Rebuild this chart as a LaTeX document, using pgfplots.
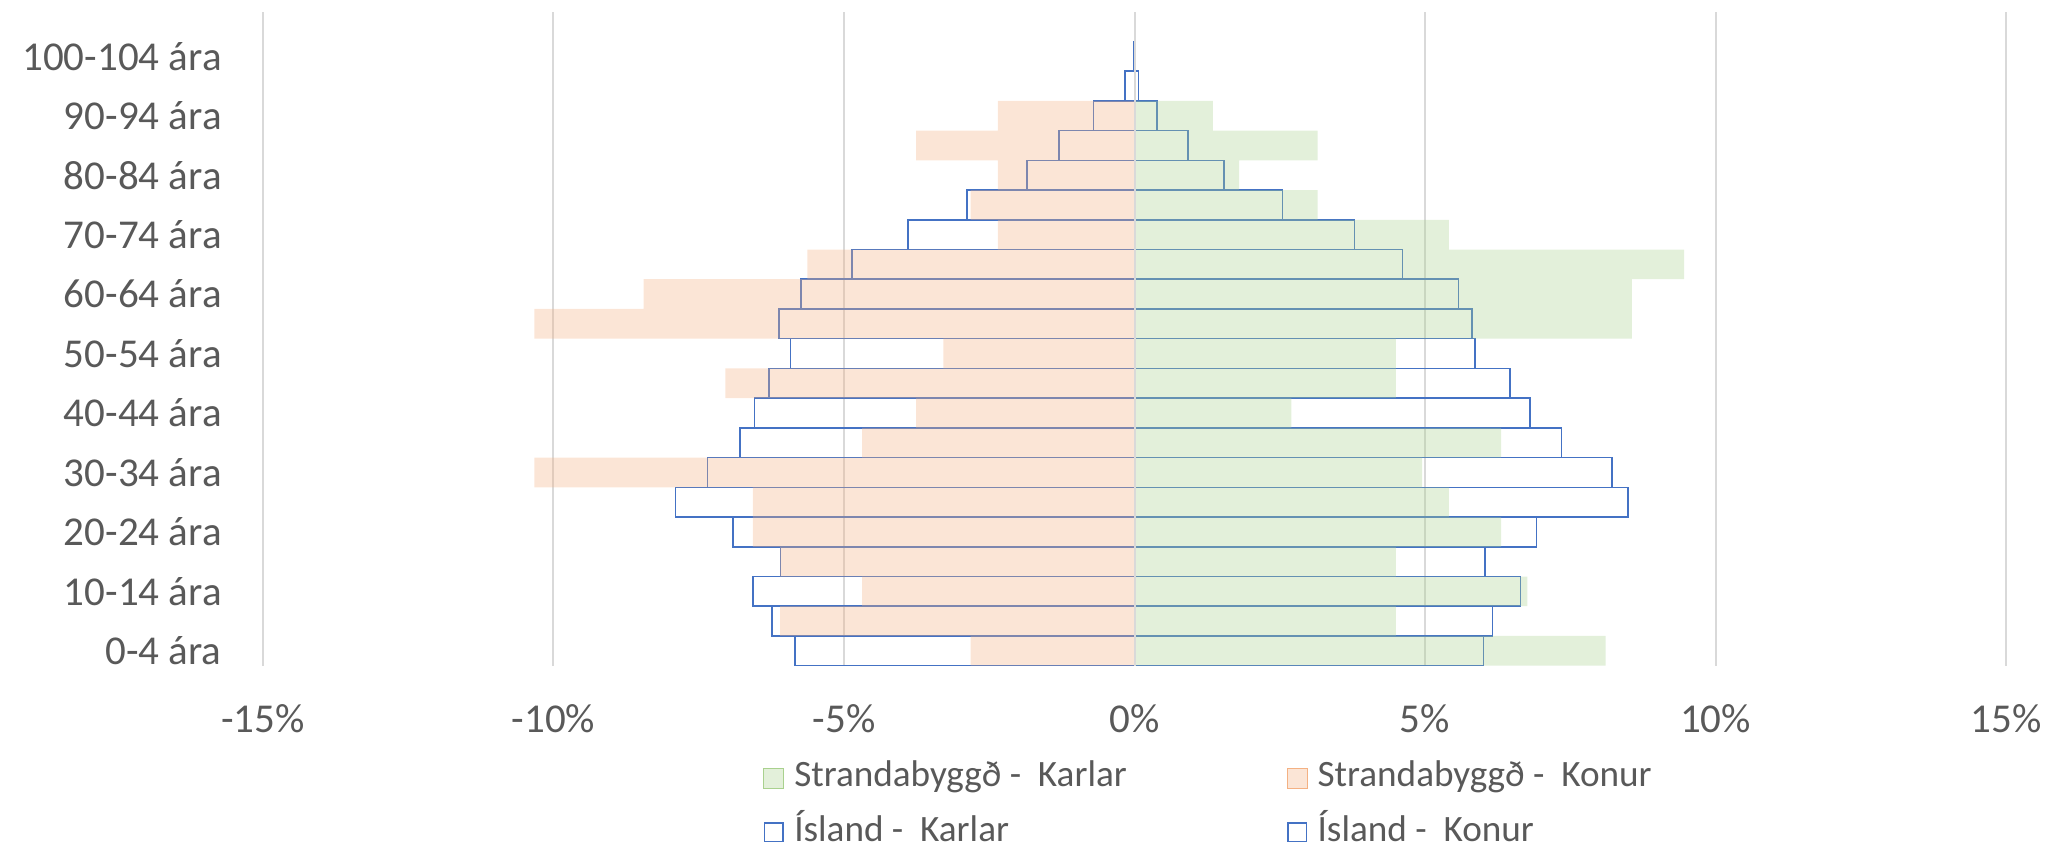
\documentclass[border=0pt]{standalone}
\usepackage{pgfplots}
\usepackage{pgfplotstable}
\pgfplotsset{compat=1.18}
\usepackage{fontspec}
\setmainfont{Carlito}
\definecolor{txt}{HTML}{595959}
\definecolor{gridc}{HTML}{D9D9D9}
\definecolor{isblue}{HTML}{4472C4}
\definecolor{kgreen}{HTML}{A9D18E}
\definecolor{kpeach}{HTML}{F4B183}

% y: 0 = 0-4 ara, ..., 20 = 100-104 ara
% sk = Strandabyggd Karlar, skon = Strandabyggd Konur, ik = Island Karlar, ikon = Island Konur
\pgfplotstableread{
y sk skon ik ikon
0 8.11 -2.82 6.01 -5.84
1 4.50 -6.10 6.16 -6.24
2 6.76 -4.69 6.64 -6.57
3 4.50 -6.10 6.03 -6.09
4 6.31 -6.57 6.92 -6.91
5 5.41 -6.57 8.49 -7.90
6 4.95 -10.33 8.22 -7.35
7 6.31 -4.69 7.35 -6.79
8 2.70 -3.76 6.81 -6.54
9 4.50 -7.04 6.46 -6.29
10 4.50 -3.29 5.86 -5.92
11 8.56 -10.33 5.81 -6.12
12 8.56 -8.45 5.58 -5.74
13 9.46 -5.63 4.61 -4.86
14 5.41 -2.35 3.79 -3.90
15 3.15 -2.82 2.55 -2.88
16 1.80 -2.35 1.54 -1.85
17 3.15 -3.76 0.92 -1.30
18 1.35 -2.35 0.39 -0.71
19 0 0 0.07 -0.16
20 0 0 0.01 -0.02
}\data

\begin{document}
\begin{tikzpicture}
\useasboundingbox (-131.5pt,-90.5pt) rectangle (892pt,332.85pt);
\begin{axis}[
  at={(0,0)}, anchor=south west,
  scale only axis, width=871.5pt, height=327pt,
  xmin=-15, xmax=15, ymin=-0.5, ymax=21.5,
  xtick={-15,-10,-5,0,5,10,15},
  xticklabels={-15\%,-10\%,-5\%,0\%,5\%,10\%,15\%},
  ytick={0,2,4,6,8,10,12,14,16,18,20},
  yticklabels={0-4 ára,10-14 ára,20-24 ára,30-34 ára,40-44 ára,50-54 ára,60-64 ára,70-74 ára,80-84 ára,90-94 ára,100-104 ára},
  xmajorgrids, ymajorgrids=false,
  major grid style={draw=gridc, line width=1pt},
  axis line style={draw=none},
  major tick length=0pt,
  tick label style={font=\fontsize{20.5}{24}\selectfont, text=txt},
  yticklabel style={inner sep=0pt, xshift=-20.5pt},
  xticklabel style={inner sep=0pt, anchor=center, yshift=-26.5pt},
  mybar/.style={xbar, bar width=1, bar shift=0pt},
  legend columns=2,
  legend cell align=left,
  legend style={at={(0.2869,-0.1553)}, anchor=north west, draw=none, fill=none,
    font=\fontsize{18.6}{22}\selectfont, text=txt, inner sep=0pt,
    row sep=15.7pt, column sep=0pt,
    /tikz/every odd column/.append style={column sep=5pt},
    /tikz/column 2/.style={column sep=80pt},
    nodes={inner sep=0pt, text height=0.75em, text depth=0.22em}},
]
\addlegendimage{legend image code/.code={\fill[kgreen, fill opacity=0.33] (0pt,-3.5pt) rectangle (10pt,6.5pt);}}
\addlegendentry{Strandabyggð -\ \ Karlar}
\addlegendimage{legend image code/.code={\fill[kpeach, fill opacity=0.33] (0pt,-3.5pt) rectangle (10pt,6.5pt);}}
\addlegendentry{Strandabyggð -\ \ Konur}
\addlegendimage{legend image code/.code={\draw[isblue, line width=0.75pt] (0.4pt,-2.6pt) rectangle (9.6pt,6.6pt);}}
\addlegendentry{Ísland -\ \ Karlar}
\addlegendimage{legend image code/.code={\draw[isblue, line width=0.75pt] (0.4pt,-2.6pt) rectangle (9.6pt,6.6pt);}}
\addlegendentry{Ísland -\ \ Konur}

\addplot[mybar, draw=isblue, fill=none, line width=0.75pt, forget plot] table[x=ikon, y=y]{\data};
\addplot[mybar, draw=isblue, fill=none, line width=0.75pt, forget plot] table[x=ik, y=y]{\data};
\addplot[mybar, draw=none, fill=kpeach, fill opacity=0.33, forget plot] table[x=skon, y=y]{\data};
\addplot[mybar, draw=none, fill=kgreen, fill opacity=0.33, forget plot] table[x=sk, y=y]{\data};
\addplot[sharp plot, no markers, draw=gridc, line width=1pt, forget plot] coordinates {(0,-0.5) (0,21.5)};
\end{axis}
\end{tikzpicture}
\end{document}
